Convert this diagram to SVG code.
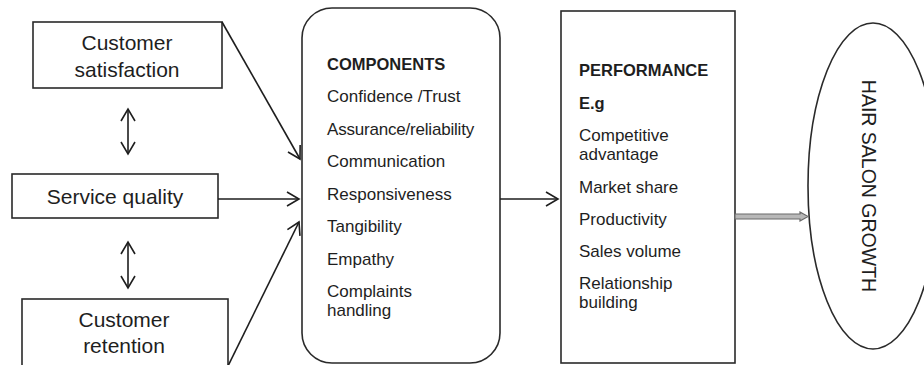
<svg xmlns="http://www.w3.org/2000/svg" width="924" height="365" viewBox="0 0 924 365">
<defs>
<style>
.box{fill:#fff;stroke:#2a2a2a;stroke-width:1.6}
.t{font-family:"Liberation Sans",Arial,sans-serif;fill:#1e1e1e}
.big{font-size:21px}
.mid{font-size:17px}
.b{font-weight:bold;font-size:16.5px}
.ln{fill:none;stroke:#1e1e1e;stroke-width:1.6}
</style>
<marker id="v" viewBox="-14 -9 16 18" refX="0" refY="0" markerWidth="16" markerHeight="18" markerUnits="userSpaceOnUse" orient="auto-start-reverse">
<path d="M-12,-7 L0,0 L-12,7" fill="none" stroke="#1e1e1e" stroke-width="1.6"/>
</marker>
</defs>
<rect width="924" height="365" fill="#fff"/>
<g id="customer-satisfaction">
<rect class="box" x="33" y="22" width="189" height="66"/>
<text class="t big" x="127" y="50" text-anchor="middle">Customer</text>
<text class="t big" x="127" y="77" text-anchor="middle">satisfaction</text>
</g>
<g id="service-quality">
<rect class="box" x="12" y="174" width="206" height="44"/>
<text class="t big" x="115" y="204" text-anchor="middle">Service quality</text>
</g>
<g id="customer-retention">
<rect class="box" x="22" y="299" width="206" height="80"/>
<text class="t big" x="124" y="327" text-anchor="middle">Customer</text>
<text class="t big" x="124" y="353" text-anchor="middle">retention</text>
</g>
<g id="components">
<rect class="box" x="302" y="8" width="198" height="355" rx="30" ry="30"/>
<text class="t b" x="327" y="70">COMPONENTS</text>
<text class="t mid" x="327" y="102">Confidence /Trust</text>
<text class="t mid" x="327" y="135" letter-spacing="-0.2">Assurance/reliability</text>
<text class="t mid" x="327" y="167">Communication</text>
<text class="t mid" x="327" y="200">Responsiveness</text>
<text class="t mid" x="327" y="232">Tangibility</text>
<text class="t mid" x="327" y="265">Empathy</text>
<text class="t mid" x="327" y="297">Complaints</text>
<text class="t mid" x="327" y="316">handling</text>
</g>
<g id="performance">
<rect class="box" x="561" y="11" width="174" height="352"/>
<text class="t b" x="579" y="76">PERFORMANCE</text>
<text class="t b" x="579" y="109">E.g</text>
<text class="t mid" x="579" y="141">Competitive</text>
<text class="t mid" x="579" y="160">advantage</text>
<text class="t mid" x="579" y="193">Market share</text>
<text class="t mid" x="579" y="225">Productivity</text>
<text class="t mid" x="579" y="257">Sales volume</text>
<text class="t mid" x="579" y="289">Relationship</text>
<text class="t mid" x="579" y="308">building</text>
</g>
<g id="hair-salon-growth">
<ellipse class="box" cx="873" cy="186" rx="65" ry="163"/>
<text class="t" font-size="19.5" transform="translate(862,186) rotate(90)" text-anchor="middle">HAIR SALON GROWTH</text>
</g>
<g id="connectors">
<line class="ln" x1="128" y1="109" x2="128" y2="154" marker-start="url(#v)" marker-end="url(#v)"/>
<line class="ln" x1="128" y1="242" x2="128" y2="288" marker-start="url(#v)" marker-end="url(#v)"/>
<line class="ln" x1="222" y1="22" x2="300" y2="159" marker-end="url(#v)"/>
<line class="ln" x1="218" y1="199" x2="299" y2="199" marker-end="url(#v)"/>
<line class="ln" x1="228" y1="366" x2="299" y2="222" marker-end="url(#v)"/>
<line class="ln" x1="500" y1="199" x2="558" y2="199" marker-end="url(#v)"/>
<polygon points="735,214 800,214 800,212 808,216.5 800,221 800,219 735,219" fill="#b8b8b8" stroke="#6a6a6a" stroke-width="1.2"/>
</g>
</svg>
